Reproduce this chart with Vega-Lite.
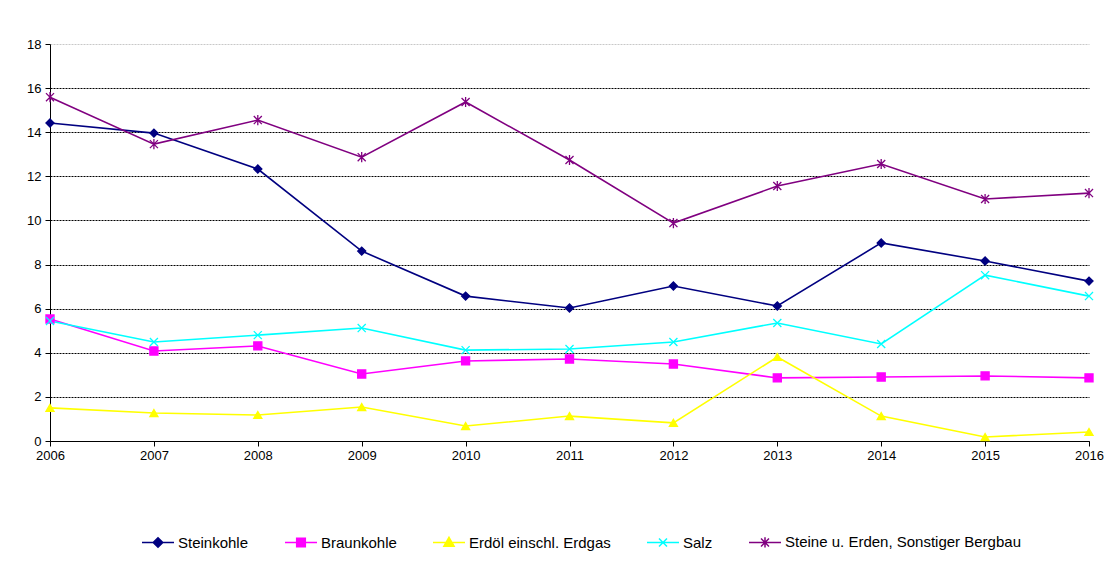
{
  "$schema": "https://vega.github.io/schema/vega-lite/v6.json",
  "width": 1039,
  "height": 397,
  "autosize": {"type": "none"},
  "padding": {"left": 50, "top": 44, "right": 23, "bottom": 124},
  "background": "white",
  "config": {
    "view": {"stroke": null},
    "font": "Liberation Sans",
    "axis": {"labelFont": "Liberation Sans", "labelFontSize": 13, "labelColor": "black", "domainColor": "black", "tickColor": "black", "tickSize": 5, "titleFontSize": 11},
    "legend": {"labelFont": "Liberation Sans", "labelFontSize": 15, "labelColor": "black", "padding": 0}
  },
  "data": {"values": [
    {"jahr": 2006, "serie": "Steinkohle", "wert": 14.42},
    {"jahr": 2007, "serie": "Steinkohle", "wert": 13.96},
    {"jahr": 2008, "serie": "Steinkohle", "wert": 12.33},
    {"jahr": 2009, "serie": "Steinkohle", "wert": 8.61},
    {"jahr": 2010, "serie": "Steinkohle", "wert": 6.57},
    {"jahr": 2011, "serie": "Steinkohle", "wert": 6.03},
    {"jahr": 2012, "serie": "Steinkohle", "wert": 7.03},
    {"jahr": 2013, "serie": "Steinkohle", "wert": 6.12},
    {"jahr": 2014, "serie": "Steinkohle", "wert": 8.98},
    {"jahr": 2015, "serie": "Steinkohle", "wert": 8.16},
    {"jahr": 2016, "serie": "Steinkohle", "wert": 7.25},
    {"jahr": 2006, "serie": "Braunkohle", "wert": 5.53},
    {"jahr": 2007, "serie": "Braunkohle", "wert": 4.08},
    {"jahr": 2008, "serie": "Braunkohle", "wert": 4.31},
    {"jahr": 2009, "serie": "Braunkohle", "wert": 3.04},
    {"jahr": 2010, "serie": "Braunkohle", "wert": 3.63},
    {"jahr": 2011, "serie": "Braunkohle", "wert": 3.72},
    {"jahr": 2012, "serie": "Braunkohle", "wert": 3.49},
    {"jahr": 2013, "serie": "Braunkohle", "wert": 2.86},
    {"jahr": 2014, "serie": "Braunkohle", "wert": 2.9},
    {"jahr": 2015, "serie": "Braunkohle", "wert": 2.95},
    {"jahr": 2016, "serie": "Braunkohle", "wert": 2.86},
    {"jahr": 2006, "serie": "Erdöl einschl. Erdgas", "wert": 1.5},
    {"jahr": 2007, "serie": "Erdöl einschl. Erdgas", "wert": 1.27},
    {"jahr": 2008, "serie": "Erdöl einschl. Erdgas", "wert": 1.18},
    {"jahr": 2009, "serie": "Erdöl einschl. Erdgas", "wert": 1.54},
    {"jahr": 2010, "serie": "Erdöl einschl. Erdgas", "wert": 0.68},
    {"jahr": 2011, "serie": "Erdöl einschl. Erdgas", "wert": 1.13},
    {"jahr": 2012, "serie": "Erdöl einschl. Erdgas", "wert": 0.82},
    {"jahr": 2013, "serie": "Erdöl einschl. Erdgas", "wert": 3.81},
    {"jahr": 2014, "serie": "Erdöl einschl. Erdgas", "wert": 1.13},
    {"jahr": 2015, "serie": "Erdöl einschl. Erdgas", "wert": 0.18},
    {"jahr": 2016, "serie": "Erdöl einschl. Erdgas", "wert": 0.41},
    {"jahr": 2006, "serie": "Salz", "wert": 5.44},
    {"jahr": 2007, "serie": "Salz", "wert": 4.49},
    {"jahr": 2008, "serie": "Salz", "wert": 4.8},
    {"jahr": 2009, "serie": "Salz", "wert": 5.12},
    {"jahr": 2010, "serie": "Salz", "wert": 4.12},
    {"jahr": 2011, "serie": "Salz", "wert": 4.17},
    {"jahr": 2012, "serie": "Salz", "wert": 4.49},
    {"jahr": 2013, "serie": "Salz", "wert": 5.35},
    {"jahr": 2014, "serie": "Salz", "wert": 4.4},
    {"jahr": 2015, "serie": "Salz", "wert": 7.52},
    {"jahr": 2016, "serie": "Salz", "wert": 6.57},
    {"jahr": 2006, "serie": "Steine u. Erden, Sonstiger Bergbau", "wert": 15.59},
    {"jahr": 2007, "serie": "Steine u. Erden, Sonstiger Bergbau", "wert": 13.46},
    {"jahr": 2008, "serie": "Steine u. Erden, Sonstiger Bergbau", "wert": 14.55},
    {"jahr": 2009, "serie": "Steine u. Erden, Sonstiger Bergbau", "wert": 12.87},
    {"jahr": 2010, "serie": "Steine u. Erden, Sonstiger Bergbau", "wert": 15.37},
    {"jahr": 2011, "serie": "Steine u. Erden, Sonstiger Bergbau", "wert": 12.74},
    {"jahr": 2012, "serie": "Steine u. Erden, Sonstiger Bergbau", "wert": 9.88},
    {"jahr": 2013, "serie": "Steine u. Erden, Sonstiger Bergbau", "wert": 11.56},
    {"jahr": 2014, "serie": "Steine u. Erden, Sonstiger Bergbau", "wert": 12.56},
    {"jahr": 2015, "serie": "Steine u. Erden, Sonstiger Bergbau", "wert": 10.97},
    {"jahr": 2016, "serie": "Steine u. Erden, Sonstiger Bergbau", "wert": 11.24}
  ]},
  "encoding": {
    "x": {"field": "jahr", "type": "quantitative", "scale": {"domain": [2006, 2016], "nice": false, "zero": false},
      "axis": {"title": null, "format": "d", "values": [2006, 2007, 2008, 2009, 2010, 2011, 2012, 2013, 2014, 2015, 2016], "grid": false, "labelPadding": 3, "labelFlush": false}},
    "y": {"field": "wert", "type": "quantitative", "scale": {"domain": [0, 18], "nice": false},
      "axis": {"title": null, "values": [0, 2, 4, 6, 8, 10, 12, 14, 16, 18], "grid": true,
        "gridColor": {"condition": {"test": "datum.value === 18", "value": "#c8c8c8"}, "value": "#000000"},
        "gridDash": [2, 1], "gridWidth": 1, "labelPadding": 4}}
  },
  "resolve": {"legend": {"color": "independent", "stroke": "independent", "shape": "independent"}},
  "layer": [
    {
      "mark": {"type": "line", "strokeWidth": 1.6},
      "encoding": {
        "color": {"field": "serie", "type": "nominal", "title": null,
          "scale": {"domain": ["Steinkohle", "Braunkohle", "Erdöl einschl. Erdgas", "Salz", "Steine u. Erden, Sonstiger Bergbau"], "range": ["#000080", "#FF00FF", "#FFFF00", "#00FFFF", "#800080"]},
          "legend": {"orient": "none", "legendX": 91, "legendY": 481, "direction": "horizontal", "columns": 5, "columnPadding": 33,
            "symbolSize": 1024, "symbolStrokeWidth": 1.5, "labelOffset": 3, "labelLimit": 400,
            "encode": {"symbols": {"update": {
              "fill": {"signal": "scale('color', datum.value)"},
              "stroke": {"signal": "scale('color', datum.value)"},
              "opacity": {"value": 1},
              "shape": {"signal": "datum.value === 'Steinkohle' ? 'M-1,0H1M0,-0.3L0.3,0L0,0.3L-0.3,0Z' : datum.value === 'Braunkohle' ? 'M-1,0H1M-0.27,-0.27H0.27V0.27H-0.27Z' : datum.value === 'Erdöl einschl. Erdgas' ? 'M-1,0H1M0,-0.32L0.32,0.24H-0.32Z' : datum.value === 'Salz' ? 'M-1,0H1M-0.25,-0.25L0.25,0.25M-0.25,0.25L0.25,-0.25' : 'M-1,0H1M-0.25,-0.25L0.25,0.25M-0.25,0.25L0.25,-0.25M0,-0.32V0.32'"}}}}}}
      }
    },
    {
      "mark": {"type": "point", "filled": true, "size": 65, "strokeWidth": 1.3, "opacity": 1},
      "encoding": {
        "color": {"field": "serie", "type": "nominal", "legend": null},
        "stroke": {"field": "serie", "type": "nominal", "legend": null,
          "scale": {"domain": ["Steinkohle", "Braunkohle", "Erdöl einschl. Erdgas", "Salz", "Steine u. Erden, Sonstiger Bergbau"], "range": ["#000080", "#FF00FF", "#FFFF00", "#00FFFF", "#800080"]}},
        "shape": {"field": "serie", "type": "nominal", "legend": null,
          "scale": {"domain": ["Steinkohle", "Braunkohle", "Erdöl einschl. Erdgas", "Salz", "Steine u. Erden, Sonstiger Bergbau"], "range": ["diamond", "square", "triangle-up", "M-1,-1L1,1M-1,1L1,-1", "M-1,-1L1,1M-1,1L1,-1M0,-1.25L0,1.25"]}}
      }
    }
  ]
}
